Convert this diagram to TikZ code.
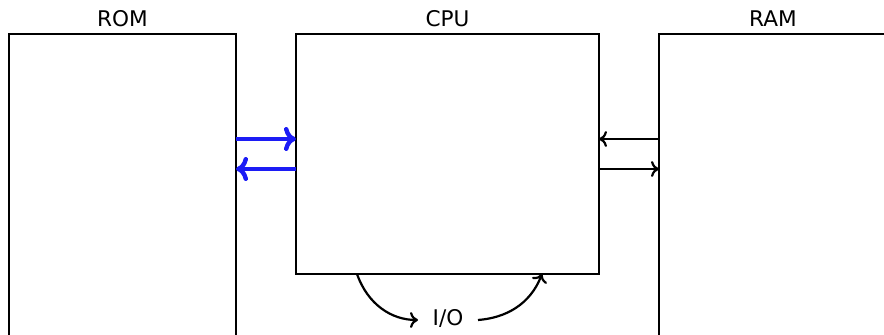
\documentclass[tikz,border=0pt]{standalone}
\usepackage{fontspec}
\setmainfont{DejaVu Sans}
\usetikzlibrary{arrows.meta}
\definecolor{arrblue}{RGB}{28,28,245}
\begin{document}
\begin{tikzpicture}[x=0.5pt,y=-0.5pt,
  box/.style={draw,line width=1.1pt,inner sep=0pt,outer sep=0pt},
  lbl/.style={anchor=base,font=\fontsize{10.8}{13}\selectfont,inner sep=0pt},
  blk/.style={line width=1.1pt,-{Computer Modern Rightarrow[length=4pt,width=8pt]}},
  blu/.style={line width=2.2pt,draw=arrblue,-{Computer Modern Rightarrow[length=6pt,width=12pt]}}]
\useasboundingbox (0,0) rectangle (884,335);
\clip (0,0) rectangle (884,335);
\node[box,minimum width=113.5pt,minimum height=155.5pt] (rom) at (122.5,189.5) {};
\node[box,minimum width=151.5pt,minimum height=120pt] (cpu) at (447.5,154) {};
\node[box,minimum width=114pt,minimum height=155.5pt] (ram) at (773,189.5) {};
\node[lbl] (romt) at (122.5,27) {ROM};
\node[lbl] (cput) at (447.5,27) {CPU};
\node[lbl] (ramt) at (773,27) {RAM};
\draw[blu] (rom.east |- 0,139) -- (cpu.west |- 0,139);
\draw[blu] (cpu.west |- 0,169) -- (rom.east |- 0,169);
\draw[blk] (ram.west |- 0,139) -- (cpu.east |- 0,139);
\draw[blk] (cpu.east |- 0,169) -- (ram.west |- 0,169);
\node[font=\fontsize{10.8}{13}\selectfont,inner sep=0pt] (io) at (448,318) {I/O};
\coordinate (s1) at (cpu.south -| 357,0);
\coordinate (e1) at (418,320);
\coordinate (s2) at (478,320);
\coordinate (e2) at (cpu.south -| 542,0);
\draw[blk] (s1) .. controls (368,305) and (392,320) .. (e1);
\draw[blk] (s2) .. controls (505,318) and (530,305) .. (e2);
\end{tikzpicture}
\end{document}
